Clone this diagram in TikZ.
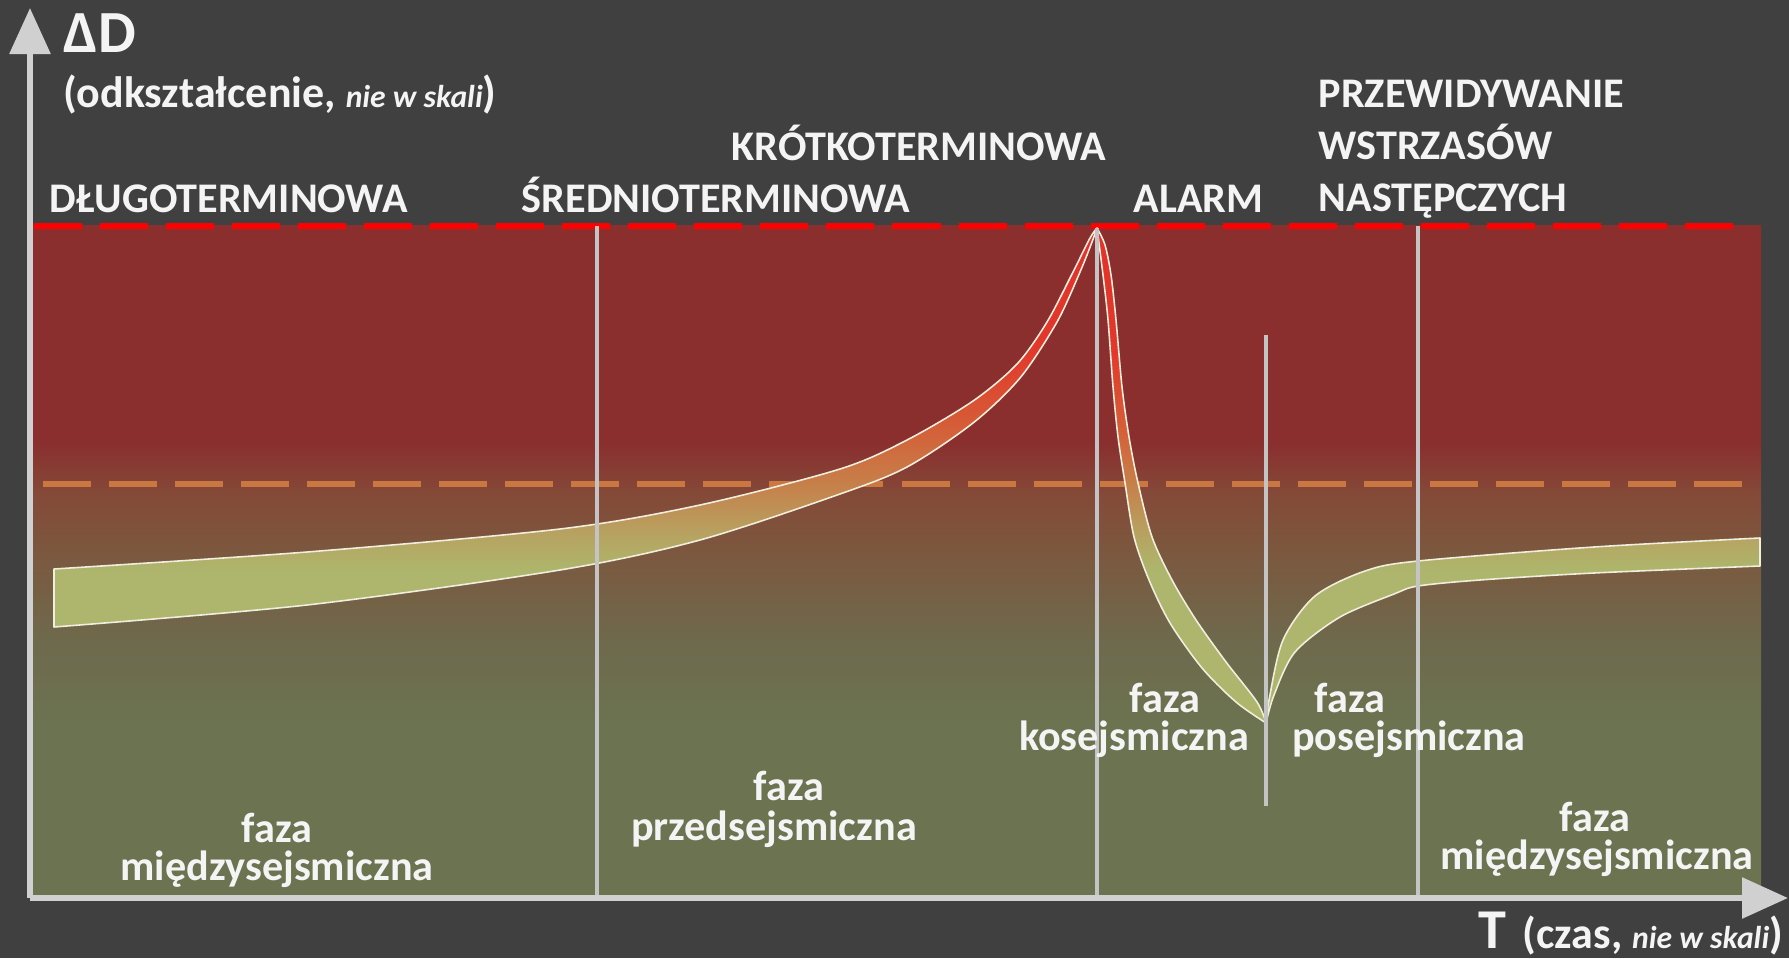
\documentclass[tikz,border=0pt]{standalone}
\usepackage{fontspec}
\setmainfont{Carlito}
\usetikzlibrary{arrows.meta}

\definecolor{bgdark}{HTML}{404040}
\definecolor{zonered}{HTML}{8A2E2E}
\definecolor{zonerust}{HTML}{844A38}
\definecolor{zonebrown}{HTML}{7A5A40}
\definecolor{zoneolive}{HTML}{6E6A4D}
\definecolor{zonegreen}{HTML}{6C7350}
\definecolor{limitred}{HTML}{FF0000}
\definecolor{limitorange}{HTML}{C87840}
\definecolor{bandred}{HTML}{E5302A}
\definecolor{bandredb}{HTML}{E3382B}
\definecolor{bandorange}{HTML}{D65A36}
\definecolor{bandtan}{HTML}{C6804A}
\definecolor{bandsand}{HTML}{B8A060}
\definecolor{bandgreen}{HTML}{ADB66C}
\definecolor{axisgray}{HTML}{D0D0D0}
\definecolor{guidegray}{HTML}{C4C4C4}
\definecolor{edgecream}{HTML}{F0EEDD}
\definecolor{textwhite}{HTML}{F4F4F4}

% plot area from y=226 (75bp) down to y=898 (25bp)
\pgfdeclareverticalshading{zoneshade}{100bp}{color(0bp)=(zonegreen); color(25bp)=(zonegreen);
  color(38bp)=(zonegreen); color(44bp)=(zoneolive); color(50bp)=(zonebrown);
  color(55bp)=(zonerust); color(59bp)=(zonered); color(75bp)=(zonered); color(100bp)=(zonered)}
% band from y=228 (75bp) down to y=725 (25bp)
\pgfdeclareverticalshading{bandshade}{100bp}{color(0bp)=(bandgreen); color(25bp)=(bandgreen);
  color(40.6bp)=(bandgreen); color(44.6bp)=(bandsand); color(49.2bp)=(bandtan);
  color(55.7bp)=(bandorange); color(62.7bp)=(bandredb); color(75bp)=(bandred); color(100bp)=(bandred)}

\newcommand\bandpath{plot[smooth] coordinates {(54,569) (307,552) (560,529) (700,505) (840,469) (907,440) (973,401) (1017,364) (1047,322) (1073,272) (1090,238) (1097,228)}
  -- plot[smooth] coordinates {(1097,228) (1105,245) (1111,275) (1116,320) (1122,387) (1129,437) (1138,483) (1152,537) (1172,580) (1196,620) (1226,662) (1257,702) (1266,723)}
  -- plot[smooth] coordinates {(1266,723) (1274,695) (1295,652) (1340,617) (1394,594) (1418,586) (1480,580) (1594,573) (1760,566)}
  -- (1760,538)
  -- plot[smooth] coordinates {(1760,538) (1594,547) (1418,561) (1365,571) (1315,596) (1283,640) (1269,700) (1266,723)}
  -- plot[smooth] coordinates {(1266,723) (1236,702) (1202,668) (1170,623) (1149,580) (1134,537) (1125,483) (1118,437) (1113,387) (1108,320) (1103,275) (1097,228)}
  -- plot[smooth] coordinates {(1097,228) (1092,242) (1080,272) (1057,322) (1020,378) (973,423) (907,467) (840,494) (700,540) (560,570) (307,605) (54,627)}
  -- cycle}

\begin{document}
\begin{tikzpicture}[x=0.01cm, y=-0.01cm,
    txt/.style={text=textwhite, inner sep=0pt, anchor=base west, font=\bfseries\fontsize{12}{14}\selectfont},
    phase/.style={txt, anchor=base, font=\bfseries\fontsize{12}{14}\selectfont},
    limit/.style={line width=1.45pt, dash pattern=on 0.48cm off 0.18cm},
    guide/.style={draw=guidegray, line width=1.3pt},
    axis/.style={draw=axisgray, line width=1.7pt, -{Triangle[length=0.46cm, width=0.40cm]}}]
  \useasboundingbox (0,0) rectangle (1789,958);
  \fill[bgdark] (0,0) rectangle (1789,958);
  \shade[shading=zoneshade] (33,226) rectangle (1761,898);

  % thresholds
  \draw[limit, limitorange] (43,484) -- (1745,484);
  \draw[limit, limitred] (34,226) -- (1745,226);

  % deformation band
  \begin{scope}
    \clip \bandpath;
    \shade[shading=bandshade] (50,228) rectangle (1765,725);
  \end{scope}
  \draw[edgecream, line width=0.45pt, line join=round] \bandpath;

  % phase borders
  \coordinate (peak) at (1097,228);
  \coordinate (trough) at (1266,335);
  \draw[guide] (597,226) -- (597,898);
  \draw[guide] (peak) -- (1097,898);
  \draw[guide] (trough) -- (1266,806);
  \draw[guide] (1418,226) -- (1418,898);

  % axes
  \coordinate (origin) at (30,898);
  \coordinate (ytip) at (30,8);
  \coordinate (xtip) at (1788,898);
  \draw[axis] (origin) -- (ytip);
  \draw[axis] (origin) -- (xtip);

  % axis labels
  \node[txt, font=\bfseries\fontsize{17}{19}\selectfont] (dD) at (63,53) {ΔD};
  \node[txt, font=\bfseries\fontsize{12.5}{14}\selectfont] (ylab) at (63,108) {(odkształcenie, {\itshape\fontsize{9}{10}\selectfont nie w skali})};
  \node[txt, font=\bfseries\fontsize{16}{18}\selectfont] (tlab) at (1478,948) {T};
  \node[txt, font=\bfseries\fontsize{12.5}{14}\selectfont] (xlab) at (1522,948) {(czas, {\itshape\fontsize{9}{10}\selectfont nie w skali})};

  % prediction horizons
  \node[txt] (dlugo) at (49,213) {DŁUGOTERMINOWA};
  \node[txt] (srednio) at (521,213) {ŚREDNIOTERMINOWA};
  \node[txt] (krotko) at (731,161) {KRÓTKOTERMINOWA};
  \node[txt] (alarm) at (1133,213) {ALARM};
  \node[txt] (przew) at (1318,108) {PRZEWIDYWANIE};
  \node[txt] (wstrz) at (1318,160) {WSTRZASÓW};
  \node[txt] (nast) at (1318,212) {NASTĘPCZYCH};

  % phases
  \node[phase] (inter1a) at (277,842) {faza};
  \node[phase] (inter1b) at (277,880) {międzysejsmiczna};
  \node[phase] (prea) at (789,800) {faza};
  \node[phase] (preb) at (774,840) {przedsejsmiczna};
  \node[phase] (coa) at (1165,712) {faza};
  \node[phase] (cob) at (1134,750) {kosejsmiczna};
  \node[phase] (posta) at (1350,712) {faza};
  \node[phase] (postb) at (1409,750) {posejsmiczna};
  \node[phase] (inter2a) at (1595,831) {faza};
  \node[phase] (inter2b) at (1597,869) {międzysejsmiczna};
\end{tikzpicture}
\end{document}
